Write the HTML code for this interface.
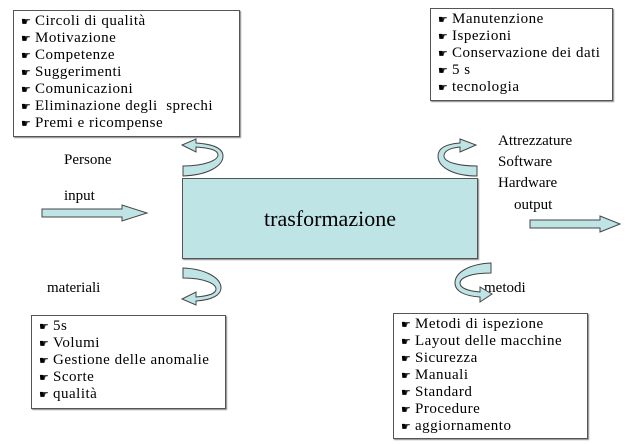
<!DOCTYPE html>
<html><head><meta charset="utf-8"><style>
body{margin:0;width:642px;height:444px;background:#fff;position:relative;overflow:hidden;font-family:"Liberation Serif",serif;color:#000}
.box{position:absolute;border:1px solid #555;background:#fff;box-sizing:border-box;padding:2px 0 0 7px;box-shadow:1px 1px 1px #888}
.box div{white-space:nowrap;height:17px;line-height:17px;font-family:"Liberation Serif",serif;font-size:15px;letter-spacing:0.5px}
.box b{display:inline-block;width:14px;font-weight:normal;font-family:"DejaVu Sans",sans-serif;font-size:11px;letter-spacing:0}
.t{position:absolute;font-size:15px;white-space:nowrap}
</style></head><body>
<div class="box" style="left:13px;top:10px;width:227px;height:127px">
<div><b>☛</b>Circoli di qualità</div><div><b>☛</b>Motivazione</div><div><b>☛</b>Competenze</div><div><b>☛</b>Suggerimenti</div><div><b>☛</b>Comunicazioni</div><div><b>☛</b>Eliminazione degli&nbsp; sprechi</div><div><b>☛</b>Premi e ricompense</div></div>
<div class="box" style="left:430px;top:8px;width:183px;height:93px">
<div><b>☛</b>Manutenzione</div><div><b>☛</b>Ispezioni</div><div><b>☛</b>Conservazione dei dati</div><div><b>☛</b>5 s</div><div><b>☛</b>tecnologia</div></div>
<div class="box" style="left:31px;top:315px;width:195px;height:94px">
<div><b>☛</b>5s</div><div><b>☛</b>Volumi</div><div><b>☛</b>Gestione delle anomalie</div><div><b>☛</b>Scorte</div><div><b>☛</b>qualità</div></div>
<div class="box" style="left:393px;top:313px;width:195px;height:126px">
<div><b>☛</b>Metodi di ispezione</div><div><b>☛</b>Layout delle macchine</div><div><b>☛</b>Sicurezza</div><div><b>☛</b>Manuali</div><div><b>☛</b>Standard</div><div><b>☛</b>Procedure</div><div><b>☛</b>aggiornamento</div></div>
<div style="position:absolute;left:182px;top:178px;width:296px;height:81px;background:#bfe4e6;border:1px solid #555;box-sizing:border-box;box-shadow:1px 1px 1px #888;text-align:center;line-height:79px;font-size:22px">trasformazione</div>
<div class="t" style="left:64px;top:152px">Persone</div>
<div class="t" style="left:64px;top:188px">input</div>
<div class="t" style="left:498px;top:133px">Attrezzature</div>
<div class="t" style="left:498px;top:154px">Software</div>
<div class="t" style="left:498px;top:175px">Hardware</div>
<div class="t" style="left:514px;top:197px">output</div>
<div class="t" style="left:47px;top:280px">materiali</div>
<div class="t" style="left:484px;top:280px">metodi</div>
<svg width="642" height="444" style="position:absolute;left:0;top:0" fill="#bfe4e6" stroke="#444" stroke-width="1">
<path d="M42,209 H122 V205 L147,213 L122,221 V217 H42 Z"/>
<path d="M530,220 H600 V216 L620,224 L600,232 V228 H530 Z"/>
<path d="M183,176 V166 C205,166 218,160 218,155 C218,150 210,148 196,147 V152 L182,145 L196,139 V143 C212,144 223,148 223,156 C223,166 208,175 183,176 Z"/>
<path d="M477,176 V166 C458,166 444,162 444,156 C444,151 450,148 460,147 V152 L476,145 L460,139 V143 C446,144 438,148 438,156 C438,168 455,176 477,176 Z"/>
<path d="M183,268 V278 C205,278 216,284 216,289 C216,294 208,296 196,297 V292 L182,299 L196,305 V301 C212,300 221,295 221,288 C221,278 206,269 183,268 Z"/>
<path d="M491,263 V273 C470,273 460,278 460,283 C460,288 468,291 480,292 V287 L492,294 L480,302 V297 C464,296 455,291 455,283 C455,272 470,264 491,263 Z"/>
</svg>
</body></html>
